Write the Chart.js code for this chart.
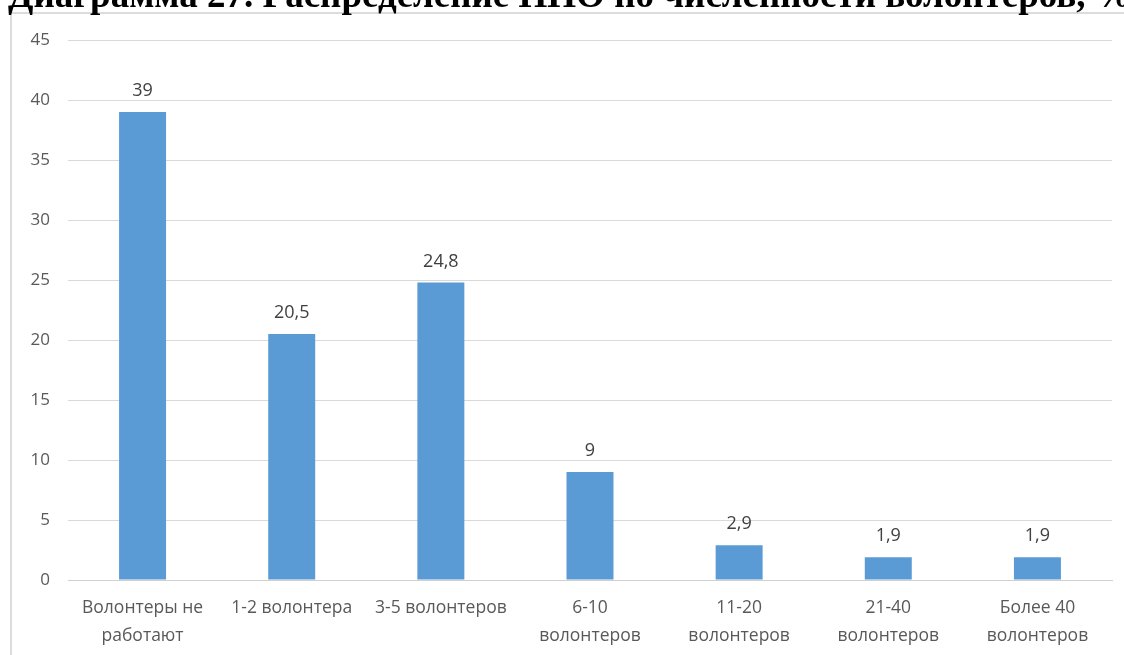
<!DOCTYPE html>
<html>
<head>
<meta charset="utf-8">
<script src="https://cdn.jsdelivr.net/npm/chart.js@4.4.1/dist/chart.umd.min.js"></script>
<style>
  html, body { margin: 0; padding: 0; background: #fff; }
  #wrap { position: relative; width: 1124px; height: 655px; overflow: hidden; }
  #frame { position: absolute; left: 10px; top: 12px; width: 1200px; height: 700px; border: 2px solid #dcdcdc; }
  #title { position: absolute; left: 8px; top: -5px; white-space: nowrap; line-height: 0;
           font-family: "Liberation Serif", serif; font-weight: bold; font-size: 37px; color: #000; }
  #box { position: absolute; left: 0; top: 0; width: 1124px; height: 655px; }
</style>
</head>
<body>
<div id="wrap">
  <div id="frame"></div>
  <div id="box"><canvas id="canvas1"></canvas></div>
  <div id="title"><span style="position:absolute; bottom:0; left:0;">Диаграмма 27. Распределение ННО по численности волонтеров, %</span></div>
</div>
<script>
var categories = [
    ['Волонтеры не', 'работают'],
    '1-2 волонтера',
    '3-5 волонтеров',
    ['6-10', 'волонтеров'],
    ['11-20', 'волонтеров'],
    ['21-40', 'волонтеров'],
    ['Более 40', 'волонтеров']
];
var values = [39, 20.5, 24.8, 9, 2.9, 1.9, 1.9];
var yTicks = [0, 5, 10, 15, 20, 25, 30, 35, 40, 45];

var fontFam = '"Open Sans", "Noto Sans", sans-serif';

// value labels above the bars
var barLabels = {
    id: 'barLabels',
    afterDatasetsDraw: function(chart){
        var ctx = chart.ctx;
        var meta = chart.getDatasetMeta(0);
        ctx.save();
        ctx.font = '18px ' + fontFam;
        ctx.fillStyle = '#404040';
        ctx.textAlign = 'center';
        ctx.textBaseline = 'bottom';
        for(var i = 0; i < meta.data.length; i++){
            var bar = meta.data[i];
            var txt = String(values[i]).replace('.', ',');
            ctx.fillText(txt, bar.x, bar.y - 12);
        }
        ctx.restore();
    }
};

var ctx = document.getElementById('canvas1');
var barGraph = new Chart(ctx, {
    type: 'bar',
    data: {
        labels: categories,
        datasets: [{
            data: values,
            backgroundColor: '#5b9bd5',
            borderWidth: 0,
            barPercentage: 0.315,
            categoryPercentage: 1
        }]
    },
    options: {
        responsive: true,
        maintainAspectRatio: false,
        animation: false,
        layout: { padding: { top: 40, right: 12, left: 0, bottom: 0 } },
        plugins: {
            legend: { display: false },
            tooltip: { enabled: false }
        },
        scales: {
            x: {
                grid: { display: false, drawTicks: false },
                border: { display: true, color: '#d0d0d0', width: 1 },
                ticks: {
                    color: '#595959',
                    font: { family: fontFam, size: 17.5, lineHeight: 1.6 },
                    maxRotation: 0,
                    autoSkip: false,
                    padding: 14
                },
                afterFit: function(scale){ scale.height = 75; }
            },
            y: {
                min: 0,
                max: 45,
                afterBuildTicks: function(scale){
                    scale.ticks = yTicks.map(function(v){ return { value: v }; });
                },
                grid: { color: '#d9d9d9', lineWidth: 1, drawTicks: false },
                border: { display: false },
                ticks: {
                    color: '#595959',
                    font: { family: fontFam, size: 17 },
                    padding: 18
                },
                afterFit: function(scale){ scale.width = 68; }
            }
        }
    },
    plugins: [barLabels]
});
</script>
</body>
</html>
